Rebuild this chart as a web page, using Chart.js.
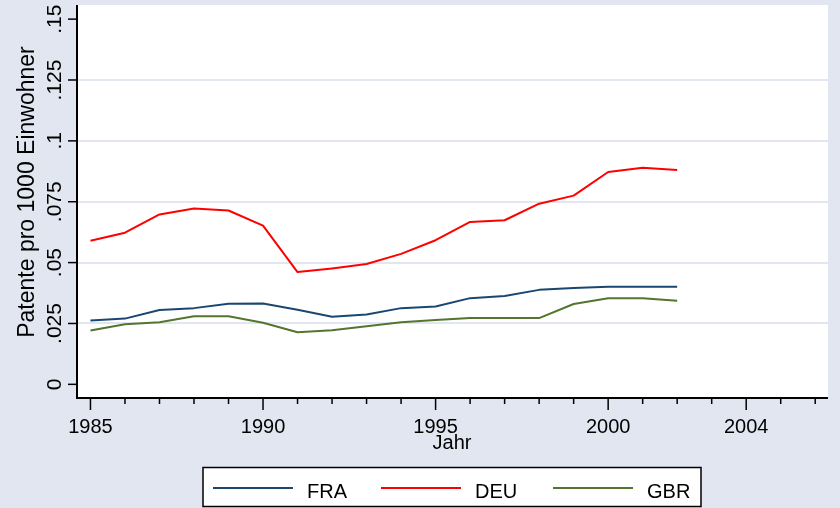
<!DOCTYPE html>
<html>
<head>
<meta charset="utf-8">
<script src="https://cdn.jsdelivr.net/npm/chart.js@4/dist/chart.umd.min.js"></script>
<style>
  html, body { margin: 0; padding: 0; background: #E2E6F0; }
  #wrap { width: 840px; height: 508px; position: relative; }
</style>
</head>
<body>
<div id="wrap"><canvas id="c" width="840" height="508"></canvas></div>
<script>
const years = [1985,1986,1987,1988,1989,1990,1991,1992,1993,1994,1995,1996,1997,1998,1999,2000,2001,2002];
const fra = [0.0262,0.0270,0.0305,0.0313,0.0331,0.0332,0.0306,0.0278,0.0287,0.0313,0.0320,0.0354,0.0363,0.0388,0.0396,0.0401,0.0401,0.0401];
const deu = [0.0590,0.0623,0.0698,0.0722,0.0714,0.0652,0.0461,0.0476,0.0494,0.0536,0.0592,0.0667,0.0674,0.0742,0.0775,0.0872,0.0890,0.0880];
const gbr = [0.0221,0.0247,0.0255,0.0280,0.0280,0.0253,0.0214,0.0222,0.0239,0.0255,0.0264,0.0272,0.0272,0.0272,0.0330,0.0354,0.0354,0.0343];

const xMajor = [1985, 1990, 1995, 2000, 2004];
const yTicks = [0, 0.025, 0.05, 0.075, 0.1, 0.125, 0.15];
const yTickLabels = ['0', '.025', '.05', '.075', '.1', '.125', '.15'];

const C = {
  bg: '#E2E6F0',
  grid: '#E2E6F0',
  fra: '#1a476f',
  deu: '#ff0000',
  gbr: '#55752f',
  ink: '#000000'
};
const FONT = "'Liberation Sans', Arial, Helvetica, sans-serif";

const toPts = (arr) => arr.map((v, i) => ({ x: years[i], y: v }));

// Stata-artige Achsen, Beschriftungen und Legende
const StataFrame = {
  id: 'StataFrame',
  beforeDraw(chart) {
    const { ctx, chartArea: a } = chart;
    ctx.save();
    ctx.fillStyle = C.bg;
    ctx.fillRect(0, 0, chart.width, chart.height);
    ctx.fillStyle = '#fff';
    ctx.fillRect(a.left, a.top, a.right - a.left, a.bottom - a.top);
    ctx.restore();
  },
  afterDraw(chart) {
    const { ctx, chartArea: a } = chart;
    const xs = chart.scales.x, ys = chart.scales.y;
    ctx.save();
    ctx.strokeStyle = C.ink;
    ctx.fillStyle = C.ink;

    // Achsenlinien
    ctx.lineWidth = 2;
    ctx.beginPath();
    ctx.moveTo(a.left, a.top); ctx.lineTo(a.left, a.bottom + 1);
    ctx.lineTo(a.right, a.bottom + 1);
    ctx.stroke();

    // y-Ticks + gedrehte Labels
    ctx.lineWidth = 1.5;
    ctx.font = '21px ' + FONT;
    ctx.textAlign = 'center';
    ctx.textBaseline = 'middle';
    yTicks.forEach((t, i) => {
      const py = ys.getPixelForValue(t);
      ctx.beginPath(); ctx.moveTo(a.left - 9, py); ctx.lineTo(a.left, py); ctx.stroke();
      ctx.save();
      ctx.translate(55, py);
      ctx.rotate(-Math.PI / 2);
      ctx.fillText(yTickLabels[i], 0, 0);
      ctx.restore();
    });

    // x-Ticks: jedes Jahr klein, Hauptjahre lang
    const y0 = a.bottom + 1;
    for (let yr = 1985; yr <= 2006; yr++) {
      const px = xs.getPixelForValue(yr);
      const major = xMajor.includes(yr);
      ctx.beginPath(); ctx.moveTo(px, y0); ctx.lineTo(px, y0 + (major ? 12 : 6)); ctx.stroke();
    }
    ctx.font = '20px ' + FONT;
    ctx.textBaseline = 'middle';
    xMajor.forEach((yr) => {
      ctx.fillText(String(yr), xs.getPixelForValue(yr), 427);
    });

    // Achsentitel
    ctx.font = '20px ' + FONT;
    ctx.fillText('Jahr', 452, 443);
    ctx.save();
    ctx.translate(28, 192);
    ctx.rotate(-Math.PI / 2);
    ctx.font = '23px ' + FONT;
    ctx.fillText('Patente pro 1000 Einwohner', 0, 0);
    ctx.restore();

    // Legende
    const box = { x: 203, y: 467.5, w: 498, h: 39 };
    ctx.fillStyle = '#fff';
    ctx.fillRect(box.x, box.y, box.w, box.h);
    ctx.lineWidth = 1.5;
    ctx.strokeStyle = C.ink;
    ctx.strokeRect(box.x, box.y, box.w, box.h);
    const lx = [213, 381, 553];
    ctx.font = '20px ' + FONT;
    ctx.textAlign = 'left';
    chart.data.datasets.forEach((ds, i) => {
      ctx.strokeStyle = ds.borderColor;
      ctx.lineWidth = 2;
      ctx.beginPath(); ctx.moveTo(lx[i], 488); ctx.lineTo(lx[i] + 80, 488); ctx.stroke();
      ctx.fillStyle = C.ink;
      ctx.fillText(ds.label, lx[i] + 94, 492);
    });
    ctx.restore();
  }
};

new Chart(document.getElementById('c'), {
  type: 'line',
  data: {
    datasets: [
      { label: 'FRA', data: toPts(fra), borderColor: C.fra },
      { label: 'DEU', data: toPts(deu), borderColor: C.deu },
      { label: 'GBR', data: toPts(gbr), borderColor: C.gbr }
    ]
  },
  options: {
    responsive: false,
    animation: false,
    layout: { padding: { left: 77, top: 5, right: 12, bottom: 111 } },
    elements: {
      line: { borderWidth: 2, tension: 0, borderJoinStyle: 'round' },
      point: { radius: 0 }
    },
    plugins: { legend: { display: false }, tooltip: { enabled: false } },
    scales: {
      x: { type: 'linear', display: false, min: 1984.61, max: 2006.37 },
      y: {
        type: 'linear',
        min: -0.0052,
        max: 0.1558,
        afterBuildTicks: (s) => { s.ticks = yTicks.map((v) => ({ value: v })); },
        ticks: { display: false },
        border: { display: false },
        grid: {
          drawTicks: false,
          lineWidth: 2,
          color: (c) => (c.tick && c.tick.value > 0 && c.tick.value < 0.15 ? C.grid : 'rgba(0,0,0,0)')
        }
      }
    }
  },
  plugins: [StataFrame]
});
</script>
</body>
</html>
